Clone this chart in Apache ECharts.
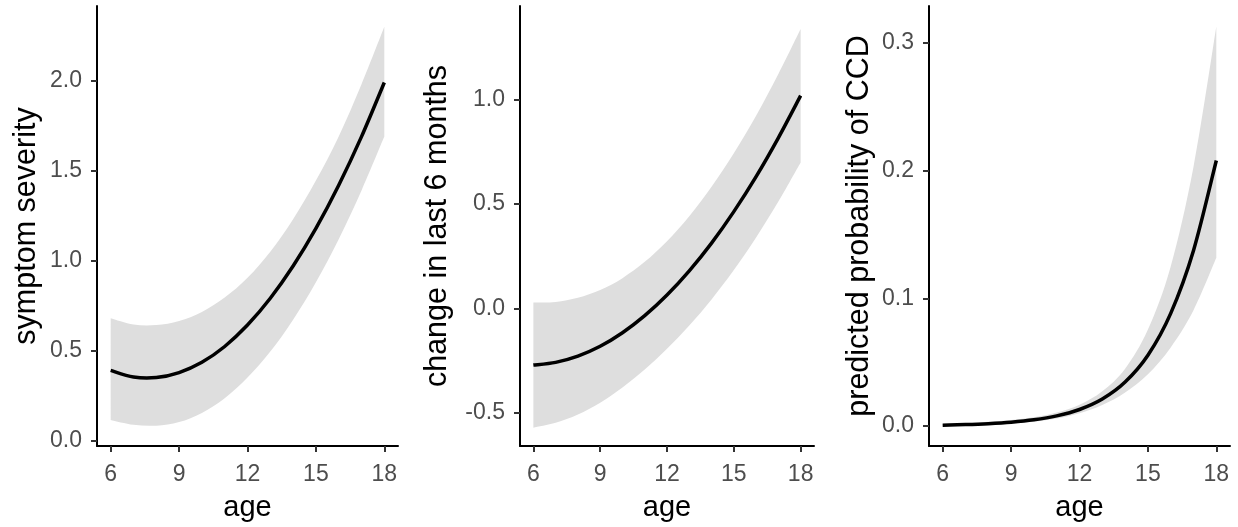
<!DOCTYPE html>
<html>
<head>
<meta charset="utf-8">
<script src="https://cdn.jsdelivr.net/npm/echarts@6/dist/echarts.min.js"></script>
<style>
	html, body { margin: 0; padding: 0; background: #fff; }
	#chart { width: 1238px; height: 527px; }
</style>
</head>
<body>
<div id="chart"></div>
<script>
(function () {

	// age axis
	var ages = [6, 7, 8, 9, 10, 11, 12, 13, 14, 15, 16, 17, 18];
	var ageTicks = [6, 9, 12, 15, 18];

	// panel 1: symptom severity
	var severityFit = [0.39, 0.353, 0.35, 0.378, 0.435, 0.523, 0.642, 0.791, 0.97, 1.179, 1.419, 1.689, 1.99];
	var severityLow = [0.115, 0.088, 0.083, 0.103, 0.154, 0.236, 0.35, 0.495, 0.672, 0.88, 1.119, 1.39, 1.69];
	var severityHigh = [0.68, 0.645, 0.642, 0.665, 0.715, 0.795, 0.905, 1.05, 1.23, 1.445, 1.69, 1.98, 2.30];
	var severityTicks = [0, 0.5, 1, 1.5, 2];

	// panel 2: change in last 6 months
	var changeFit = [-0.272, -0.259, -0.229, -0.182, -0.117, -0.035, 0.064, 0.18, 0.313, 0.464, 0.632, 0.818, 1.02];
	var changeLow = [-0.572, -0.549, -0.509, -0.452, -0.379, -0.293, -0.194, -0.082, 0.043, 0.184, 0.34, 0.512, 0.70];
	var changeHigh = [0.028, 0.031, 0.051, 0.088, 0.145, 0.223, 0.322, 0.442, 0.583, 0.744, 0.924, 1.124, 1.34];
	var changeTicks = [-0.5, 0, 0.5, 1];

	// panel 3: predicted probability of CCD
	var ccdFit = [0.00065, 0.00107, 0.00177, 0.0029, 0.0048, 0.0079, 0.0129, 0.0211, 0.0344, 0.0554, 0.0882, 0.1375, 0.208];
	var ccdLow = [0.00026, 0.0005, 0.00097, 0.00182, 0.00335, 0.0059, 0.0100, 0.0164, 0.0262, 0.0405, 0.0615, 0.0906, 0.1317];
	var ccdHigh = [0.0016, 0.00227, 0.00322, 0.00465, 0.00685, 0.0105, 0.0167, 0.0272, 0.0449, 0.0755, 0.125, 0.203, 0.313];
	var ccdTicks = [0, 0.1, 0.2, 0.3];

	var font = 'Liberation Sans, Arial, sans-serif';

	var panels = [
		{ title: 'symptom severity', fit: severityFit, low: severityLow, high: severityHigh, ticks: severityTicks,
			min: -0.03, max: 2.415, nameGap: 55, grid: { left: 97, top: 6, width: 301, height: 441 } },
		{ title: 'change in last 6 months', fit: changeFit, low: changeLow, high: changeHigh, ticks: changeTicks,
			min: -0.66, max: 1.45, nameGap: 67, grid: { left: 520, top: 6, width: 294, height: 440 } },
		{ title: 'predicted probability of CCD', fit: ccdFit, low: ccdLow, high: ccdHigh, ticks: ccdTicks,
			min: -0.0157, max: 0.329, nameGap: 54, grid: { left: 929, top: 6, width: 301, height: 441 } }
	];

	// Catmull-Rom through pixel points -> cubic bezier segments
	function curve(pts) {
		var d = '';
		for (var i = 0; i < pts.length - 1; i++) {
			var p0 = pts[i - 1] || pts[i], p1 = pts[i], p2 = pts[i + 1], p3 = pts[i + 2] || p2;
			var c1 = [p1[0] + (p2[0] - p0[0]) / 6, p1[1] + (p2[1] - p0[1]) / 6];
			var c2 = [p2[0] - (p3[0] - p1[0]) / 6, p2[1] - (p3[1] - p1[1]) / 6];
			d += ' C' + c1.join(',') + ' ' + c2.join(',') + ' ' + p2.join(',');
		}
		return d;
	}

	function toPixels(api, values) {
		return ages.map(function (a, i) { return api.coord([a, values[i]]); });
	}

	var grids = [], xAxes = [], yAxes = [], series = [];

	panels.forEach(function (p, i) {
		grids.push({ left: p.grid.left, top: p.grid.top, width: p.grid.width, height: p.grid.height, containLabel: false });

		xAxes.push({
			gridIndex: i,
			type: 'value',
			min: 5.4,
			max: 18.6,
			name: 'age',
			nameLocation: 'middle',
			nameGap: 47,
			nameTextStyle: { fontSize: 29, color: '#000', fontFamily: font },
			axisLine: { onZero: false, lineStyle: { color: '#000', width: 2 } },
			axisTick: { customValues: ageTicks, length: 6, lineStyle: { color: '#333', width: 2 } },
			axisLabel: { customValues: ageTicks, margin: 17, fontSize: 23, color: '#4d4d4d', fontFamily: font },
			splitLine: { show: false }
		});

		yAxes.push({
			gridIndex: i,
			type: 'value',
			min: p.min,
			max: p.max,
			name: p.title,
			nameLocation: 'middle',
			nameGap: p.nameGap,
			nameRotate: 90,
			nameTextStyle: { fontSize: 30.5, color: '#000', fontFamily: font },
			axisLine: { onZero: false, lineStyle: { color: '#000', width: 2 } },
			axisTick: { customValues: p.ticks, length: 6, lineStyle: { color: '#333', width: 2 } },
			axisLabel: {
				customValues: p.ticks, margin: 15, fontSize: 23, color: '#4d4d4d', fontFamily: font,
				formatter: function (v) { return v.toFixed(1); }
			},
			splitLine: { show: false }
		});

		// confidence band
		series.push({
			type: 'custom', xAxisIndex: i, yAxisIndex: i, silent: true,
			data: [0],
			renderItem: function (params, api) {
				var up = toPixels(api, p.high);
				var down = toPixels(api, p.low).reverse();
				var d = 'M' + up[0].join(',') + curve(up) + ' L' + down[0].join(',') + curve(down) + ' Z';
				return { type: 'path', shape: { pathData: d }, style: { fill: '#dedede', stroke: null } };
			}
		});

		// fitted line
		series.push({
			type: 'custom', xAxisIndex: i, yAxisIndex: i, silent: true,
			data: [0],
			renderItem: function (params, api) {
				var pts = toPixels(api, p.fit);
				var d = 'M' + pts[0].join(',') + curve(pts);
				return { type: 'path', shape: { pathData: d }, style: { fill: 'none', stroke: '#000', lineWidth: 3.5 } };
			}
		});
	});

	var chart = echarts.init(document.getElementById('chart'));
	chart.setOption({
		animation: false,
		backgroundColor: '#fff',
		grid: grids,
		xAxis: xAxes,
		yAxis: yAxes,
		series: series
	});
})();
</script>
</body>
</html>
